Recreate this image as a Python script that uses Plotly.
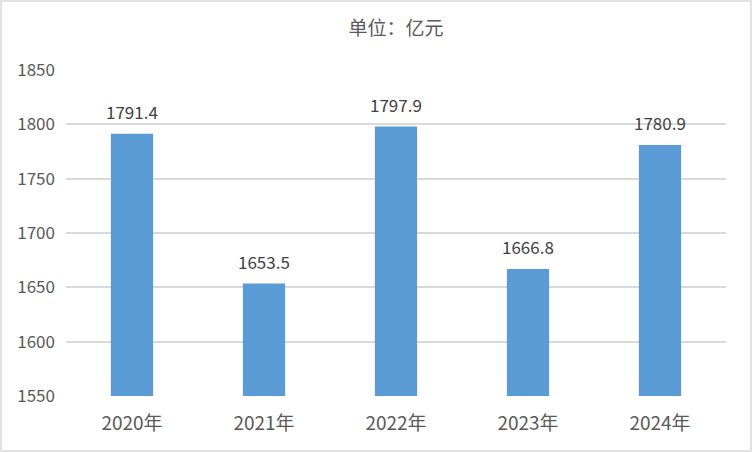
import plotly.graph_objects as go

categories = ["2020年", "2021年", "2022年", "2023年", "2024年"]
values = [1791.4, 1653.5, 1797.9, 1666.8, 1780.9]
labels = ["1791.4", "1653.5", "1797.9", "1666.8", "1780.9"]
y_ticks = [1550, 1600, 1650, 1700, 1750, 1800, 1850]

W, H = 752, 452
ml, mr, mt, mb = 66, 26, 70, 56
font = "Noto Sans CJK SC, Microsoft YaHei, sans-serif"

fig = go.Figure(go.Bar(
    x=categories, y=values, base=0,
    marker=dict(color="#5B9BD5", line=dict(width=0)),
    width=0.32,
))

for c, v, t in zip(categories, values, labels):
    fig.add_annotation(x=c, y=v, text=t, showarrow=False,
                       yanchor="bottom", yshift=8,
                       font=dict(family=font, size=17, color="#404040"))

pw, ph = W - ml - mr, H - mt - mb
fig.add_shape(type="rect", xref="paper", yref="paper",
              x0=-(ml - 1) / pw, x1=1 + (mr - 1) / pw,
              y0=-(mb - 1) / ph, y1=1 + (mt - 1) / ph,
              line=dict(color="#D9D9D9", width=1.5), layer="below")

fig.update_layout(
    width=W, height=H,
    margin=dict(l=ml, r=mr, t=mt, b=mb),
    paper_bgcolor="white", plot_bgcolor="white",
    showlegend=False,
    title=dict(text="单位：亿元", x=0.5, xref="paper", xanchor="center",
               y=1 - 28 / H, yanchor="middle",
               font=dict(family=font, size=19, color="#595959")),
    xaxis=dict(showgrid=False, showline=False, ticks="",
               ticklabelstandoff=14,
               tickfont=dict(family=font, size=19, color="#595959")),
    yaxis=dict(range=[1550, 1850], tickvals=y_ticks,
               showgrid=True, gridcolor="#D9D9D9", gridwidth=1.5,
               zeroline=False, showline=False, ticks="",
               ticklabelstandoff=10,
               tickfont=dict(family=font, size=17, color="#595959")),
)

fig.write_html("out.html", config={"displayModeBar": False},
               post_script="document.body.style.margin='0';")
